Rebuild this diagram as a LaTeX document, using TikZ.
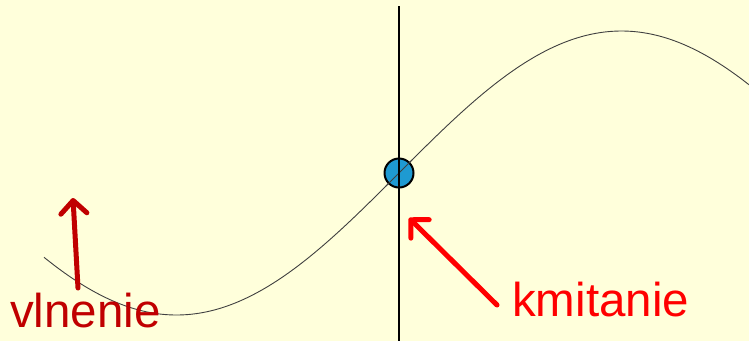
\documentclass[tikz,border=0pt]{standalone}
\usepackage{fontspec}
\setmainfont{Liberation Sans}
\usetikzlibrary{arrows.meta}
\definecolor{bg}{HTML}{FFFFDB}
\definecolor{darkred}{HTML}{C00000}
\definecolor{ballblue}{HTML}{1E9AD2}
\definecolor{curvegray}{HTML}{404040}
\tikzset{
  lbl/.style={font=\fontsize{47.5}{52}\selectfont, inner sep=0pt, anchor=base west},
  bigarrow/.style={line width=5pt, line cap=round, -{Straight Barb[length=13pt,width=26pt,line width=5pt,round]}},
}
\begin{document}
\begin{tikzpicture}[x=1pt,y=-1pt]
\fill[bg] (0,0) rectangle (749,341);
\useasboundingbox (0,0) rectangle (749,341);
% wave
\draw[curvegray, line width=0.9pt] plot[domain=44:749, samples=240, smooth] (\x, {173-142*sin(0.404494*(\x-399))});
% ball
\node[circle, draw=black, line width=2pt, fill=ballblue, minimum size=29pt, inner sep=0pt] (osc) at (399,173) {};
% redraw curve segment through ball
\draw[curvegray, line width=0.9pt] plot[domain=386:412, samples=20] (\x, {173-142*sin(0.404494*(\x-399))});
% vertical line
\coordinate (vtop) at (399,6);
\coordinate (vbot) at (399,341);
\draw[black, line width=1.3pt] (vtop) -- (vbot);
% labels
\node[lbl, text=darkred] (vl) at (10,327) {vlnenie};
\node[lbl, text=red] (km) at (512,316) {kmitanie};
% arrows
\coordinate (vtail) at (78,288);
\coordinate (vtip) at (73,198);
\draw[bigarrow, darkred] (vtail) -- (vtip);
\coordinate (ktail) at (497,305);
\coordinate (ktip) at (409,218);
\draw[bigarrow, red] (ktail) -- (ktip);
\end{tikzpicture}
\end{document}
